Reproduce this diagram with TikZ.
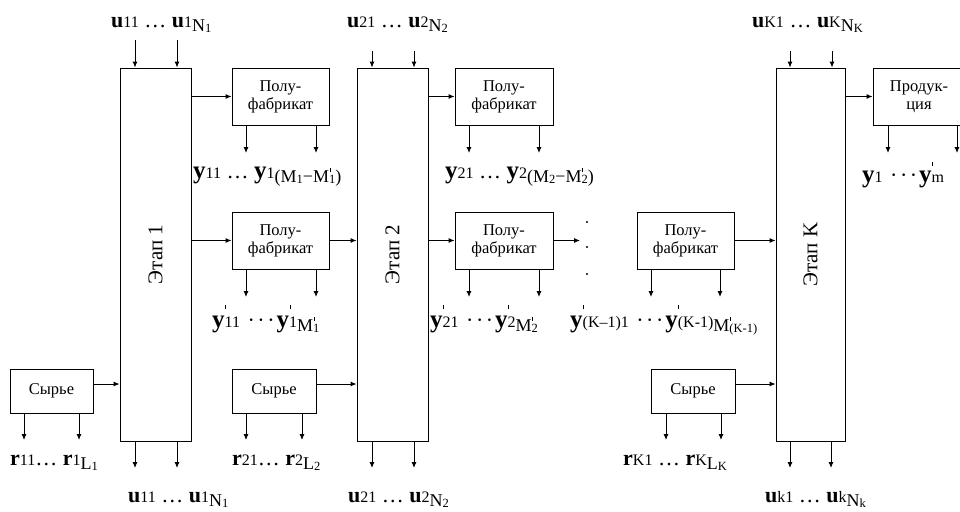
\documentclass[tikz,border=0pt]{standalone}
\usepackage{fontspec}
\setmainfont{Liberation Serif}
\usetikzlibrary{arrows.meta}

\newcommand\bvar[1]{{\fontsize{22}{22}\selectfont\bfseries #1}}
\newcommand\yv{{\fontsize{25}{25}\selectfont\bfseries y}}
\newcommand\ixx[1]{{\fontsize{16}{16}\selectfont #1}}
\newcommand\sbb[1]{\raisebox{-4pt}{\fontsize{18}{18}\selectfont #1}}
\newcommand\ssb[1]{\raisebox{-1pt}{\fontsize{12.5}{12.5}\selectfont #1}}
\newcommand\tck[1]{\makebox[0pt][l]{\kern0.5pt\raisebox{#1}{\rule{0.8pt}{4pt}}}}
\newcommand\dts{{\fontsize{22}{22}\selectfont …}}
\newcommand\cdt{{\fontsize{22}{22}\selectfont\kern2pt·\kern2.5pt·\kern2.5pt·\kern2pt}}
\newcommand\boxfont{\fontsize{16.5}{18}\selectfont}
\newcommand\stfont{\fontsize{21}{21}\selectfont}
\newcommand\labfont{\fontsize{22}{22}\selectfont}

\tikzset{
  box/.style={draw, line width=0.9pt, inner sep=0pt, align=center, font=\boxfont},
  stagebox/.style={draw, line width=0.9pt, inner sep=0pt, minimum height=373pt},
  arr/.style={line width=0.9pt, -{Latex[length=6pt,width=5pt]}},
  lab/.style={anchor=base west, inner sep=0pt, font=\labfont},
}

\begin{document}
\begin{tikzpicture}[x=1pt,y=-1pt]
\fill[white] (0,0) rectangle (960,511);
\useasboundingbox (0,0) rectangle (960,511);

% stages
\node[stagebox, minimum width=71pt, label={[rotate=90,font=\stfont]center:Этап 1}] (s1) at (155.5,254.5) {};
\node[stagebox, minimum width=71pt, label={[rotate=90,font=\stfont]center:Этап 2}] (s2) at (392.5,254.5) {};
\node[stagebox, minimum width=69pt, label={[rotate=90,font=\stfont]center:Этап K}] (sK) at (810.5,254.5) {};

% semi-products
\node[box, minimum width=97pt, minimum height=57pt] (p11) at (280.5,96.5) {Полу-\\фабрикат};
\node[box, minimum width=97pt, minimum height=57pt] (p12) at (280.5,240.5) {Полу-\\фабрикат};
\node[box, minimum width=98pt, minimum height=57pt] (p21) at (504,96.5) {Полу-\\фабрикат};
\node[box, minimum width=98pt, minimum height=57pt] (p22) at (504,240.5) {Полу-\\фабрикат};
\node[box, minimum width=97pt, minimum height=57pt] (pK) at (685.5,240.5) {Полу-\\фабрикат};
\node[box, minimum width=92pt, minimum height=57pt] (pr) at (919,96.5) {Продук-\\ция};

% raw materials
\node[box, minimum width=83pt, minimum height=44pt] (r1) at (51.5,391) {Сырье};
\node[box, minimum width=84pt, minimum height=44pt] (r2) at (274,391) {Сырье};
\node[box, minimum width=84pt, minimum height=44pt] (rK) at (693,391) {Сырье};

% horizontal flows
\draw[arr] (s1.east |- p11.west) -- (p11.west);
\draw[arr] (s1.east |- p12.west) -- (p12.west);
\draw[arr] (p12.east) -- (p12.east -| s2.west);
\draw[arr] (s2.east |- p21.west) -- (p21.west);
\draw[arr] (s2.east |- p22.west) -- (p22.west);
\coordinate (dt) at (580,240.5);
\draw[arr] (p22.east) -- (dt);
\draw[arr] (pK.east) -- (pK.east -| sK.west);
\draw[arr] (sK.east |- pr.west) -- (pr.west);
\draw[arr] ([yshift=7pt]r1.east) -- ([yshift=7pt]r1.east -| s1.west);
\draw[arr] ([yshift=7pt]r2.east) -- ([yshift=7pt]r2.east -| s2.west);
\draw[arr] ([yshift=7pt]rK.east) -- ([yshift=7pt]rK.east -| sK.west);

% dots
\foreach \yy in {222,247,274} \fill (587,\yy) circle (1.2pt);

% inputs to stages (top)
\foreach \s/\x/\y/\n in {s1/135/40/a, s1/177/40/b, s2/372/51/c, s2/414/51/d, sK/790/51/e, sK/832/51/f}{
  \coordinate (in\n) at (\x,\y);
  \draw[arr] (in\n) -- (in\n |- \s.north);
}
% outputs downward
\foreach \s/\x/\y/\n in {s1/135/468/a, s1/177/468/b, s2/372/468/c, s2/414/468/d, sK/790/468/e, sK/831/468/f,
  p11/246/153/g, p11/316/153/h, p21/469/153/i, p21/539/153/j, pr/888/153/k, pr/957/153/l,
  p12/246/297/m, p12/316/297/n, p22/469/297/o, p22/539/297/p, pK/651/297/q, pK/720/297/r,
  r1/24/440/s, r1/79/440/t, r2/246/440/u, r2/302/440/v, rK/666/440/w, rK/721/440/x}{
  \coordinate (out\n) at (\x,\y);
  \draw[arr] (\s.south -| out\n) -- (out\n);
}

% labels: top inputs
\node[lab] (lt1) at (111,28) {\bvar{u}\ixx{11} \dts{} \bvar{u}\ixx{1}\sbb{N\ssb{1}}};
\node[lab] (lt2) at (347,28) {\bvar{u}\ixx{21} \dts{} \bvar{u}\ixx{2}\sbb{N\ssb{2}}};
\node[lab] (ltK) at (752,28) {\bvar{u}\ixx{K1} \dts{} \bvar{u}\ixx{K}\sbb{N\ssb{K}}};

% labels: top outputs
\node[lab] (ly1) at (193,178) {\yv\ixx{11} \dts{} \yv\ixx{1}\sbb{(M\ssb{1}−M\tck{10pt}\ssb{1})}};
\node[lab] (ly2) at (445,178) {\yv\ixx{21} \dts{} \yv\ixx{2}\sbb{(M\ssb{2}−M\tck{10pt}\ssb{2})}};
\node[lab] (lyp) at (862,182) {\yv\ixx{1} \cdt{}\yv\tck{16pt}\ixx{m}};

% labels: middle outputs
\node[lab] (lm1) at (212,327) {\yv\tck{18pt}\ixx{11} \cdt\yv\tck{18pt}\ixx{1}\sbb{M\tck{10pt}\ssb{1}}};
\node[lab] (lm2) at (430,327) {\yv\tck{18pt}\ixx{21} \cdt\yv\tck{18pt}\ixx{2}\sbb{M\tck{10pt}\ssb{2}}};
\node[lab] (lmK) at (570,327) {\yv\tck{18pt}\ixx{(K–1)1} \cdt\yv\tck{18pt}\ixx{(K-1)}\sbb{M\tck{10pt}\ssb{(K-1)}}};

% labels: raw outputs
\node[lab] (lr1) at (10,465) {\bvar{r}\ixx{11}\dts{} \bvar{r}\ixx{1}\sbb{L\ssb{1}}};
\node[lab] (lr2) at (232,465) {\bvar{r}\ixx{21}\dts{} \bvar{r}\ixx{2}\sbb{L\ssb{2}}};
\node[lab] (lrK) at (623,465) {\bvar{r}\ixx{K1} \dts{} \bvar{r}\ixx{K}\sbb{L\ssb{K}}};

% labels: bottom outputs
\node[lab] (lb1) at (128,502) {\bvar{u}\ixx{11} \dts{} \bvar{u}\ixx{1}\sbb{N\ssb{1}}};
\node[lab] (lb2) at (348,502) {\bvar{u}\ixx{21} \dts{} \bvar{u}\ixx{2}\sbb{N\ssb{2}}};
\node[lab] (lbK) at (765,502) {\bvar{u}\ixx{k1} \dts{} \bvar{u}\ixx{k}\sbb{N\ssb{k}}};
\end{tikzpicture}
\end{document}
